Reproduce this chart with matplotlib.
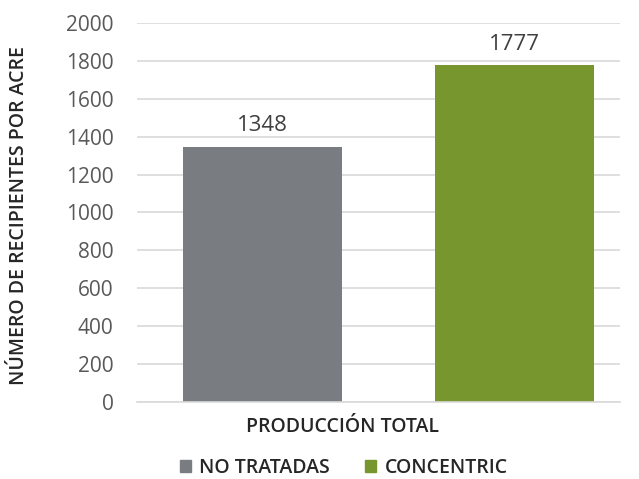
import matplotlib
matplotlib.use("Agg")
from matplotlib import pyplot as plt
from matplotlib.patches import Patch

series = ["NO TRATADAS", "CONCENTRIC"]
values = [1348, 1777]
colors = ["#797d81", "#77962e"]
category = "PRODUCCIÓN TOTAL"
y_ticks = [0, 200, 400, 600, 800, 1000, 1200, 1400, 1600, 1800, 2000]

plt.rcParams["font.family"] = ["Open Sans", "DejaVu Sans"]

fig = plt.figure(figsize=(6.39, 4.79), dpi=100)
ax = fig.add_axes([0.2144, 0.1608, 0.7556, 0.7912])

positions = list(range(len(values)))
bars = ax.bar(positions, values, width=0.63, color=colors, zorder=2)
for bar, value in zip(bars, values):
    ax.text(
        bar.get_x() + bar.get_width() / 2,
        value + 55,
        str(value),
        ha="center",
        va="bottom",
        fontsize=16,
        color="#404040",
    )

ax.set_xlim(-0.497, 1.416)
ax.set_ylim(0, 2000)
ax.set_yticks(y_ticks)
ax.set_yticklabels([str(t) for t in y_ticks], fontsize=15, color="#595959")
ax.tick_params(axis="y", length=0, pad=17)
ax.set_xticks([])
ax.grid(axis="y", color="#d9d9d9", linewidth=1.2, zorder=0)
for side in ["top", "right", "left"]:
    ax.spines[side].set_visible(False)
ax.spines["bottom"].set_color("#d9d9d9")
ax.spines["bottom"].set_linewidth(1.2)

ax.text(0.319, -0.04, category, transform=ax.get_xaxis_transform(),
        ha="center", va="top", fontsize=14, fontweight="semibold", color="#262626")
fig.text(0.03, 0.551, "NÚMERO DE RECIPIENTES POR ACRE", rotation=90,
         ha="center", va="center", fontsize=14, fontweight="semibold", color="#262626")

handles = [Patch(color=c, label=s) for c, s in zip(colors, series)]
fig.legend(handles=handles, loc="center", bbox_to_anchor=(0.538, 0.023),
           ncol=2, frameon=False, handlelength=0.55, handleheight=0.55,
           handletextpad=0.45, columnspacing=1.8,
           prop={"size": 14, "weight": "semibold"}, labelcolor="#262626")

fig.savefig("out.png", dpi=100)
